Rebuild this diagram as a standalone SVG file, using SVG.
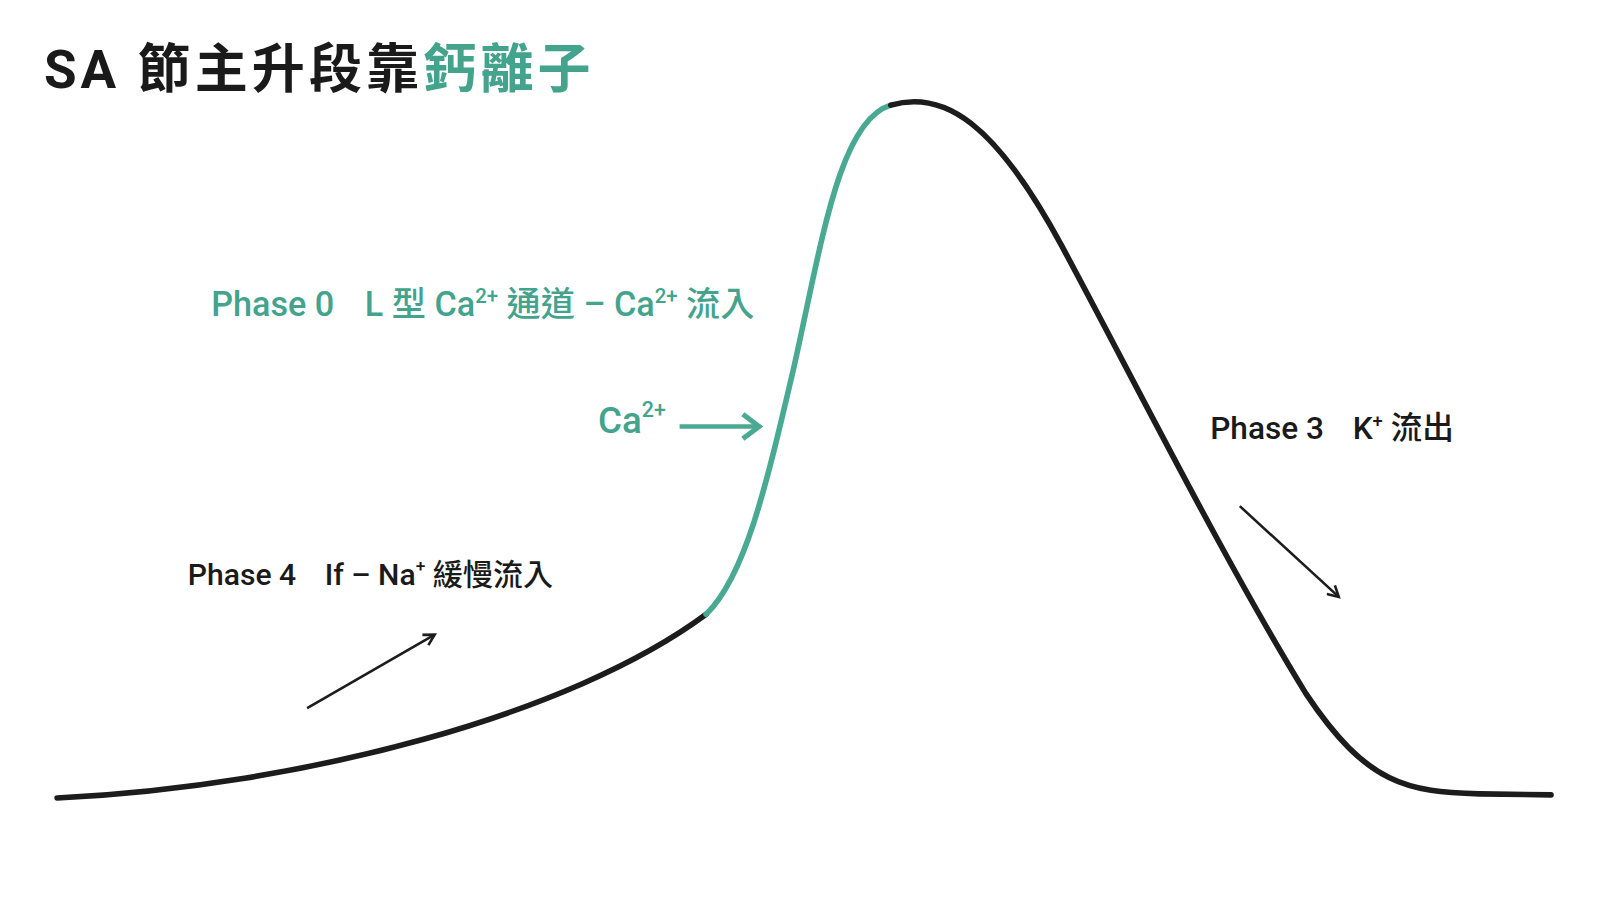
<svg xmlns="http://www.w3.org/2000/svg" width="1600" height="900" viewBox="0 0 1600 900">
<defs>
<style>
text{font-family:"Roboto","Noto Sans","Noto Sans CJK TC",sans-serif}
.title{font-size:52px;font-weight:700;fill:#1a1a1a;letter-spacing:4px}
.teal{fill:#43a38c}
.lbl{font-weight:500;fill:#1a1a1a}
.curve{fill:none;stroke-width:5.5;stroke-linecap:round;stroke-linejoin:round}
.k{stroke:#1c1c1c}
.g{stroke:#4aa993}
.arr{fill:none;stroke:#1c1c1c;stroke-width:2.5}
</style>
<marker id="ah" viewBox="0 0 12 12" refX="10" refY="6" markerWidth="14" markerHeight="14" markerUnits="userSpaceOnUse" orient="auto">
<path d="M1,1 L10,6 L1,11" fill="none" stroke="#1c1c1c" stroke-width="2.2"/>
</marker>
<marker id="ahg" viewBox="0 0 24 30" refX="20" refY="15" markerWidth="24" markerHeight="30" markerUnits="userSpaceOnUse" orient="auto">
<path d="M4,3 L20,15 L4,27" fill="none" stroke="#4aa993" stroke-width="5" stroke-linejoin="miter"/>
</marker>
</defs>
<rect width="1600" height="900" fill="#ffffff"/>
<g transform="scale(1.0204)">
<g id="title">
<text class="title" x="43" y="86">SA 節主升段靠<tspan class="teal">鈣離子</tspan></text>
</g>
<g id="curve">
<path class="curve k" d="M56,782 C300,770 560,700 692,602"/>
<path class="curve g" d="M692,602 C730,565 750,480 778,360 C805,240 822,118 873,103"/>
<path class="curve k" d="M873,103 C925,88 975,120 1040,240 C1110,370 1200,550 1280,680 C1340,770 1380,776 1450,778 L1520,779"/>
</g>
<g id="phase0">
<text x="207" y="310" font-size="33.5" font-weight="500" class="teal">Phase 0<tspan dx="30">L 型 Ca</tspan><tspan font-size="20" dy="-13">2+</tspan><tspan dy="13"> 通道 – Ca</tspan><tspan font-size="20" dy="-13">2+</tspan><tspan dy="13"> 流入</tspan></text>
</g>
<g id="ca-label">
<text x="586" y="424" font-size="36" font-weight="500" class="teal">Ca<tspan font-size="21" dy="-15">2+</tspan></text>
</g>
<g id="phase4">
<text x="184" y="573" font-size="29.5" class="lbl">Phase 4<tspan dx="28">If – Na</tspan><tspan font-size="17" dy="-12">+</tspan><tspan dy="12"> 緩慢流入</tspan></text>
</g>
<g id="phase3">
<text x="1186" y="430" font-size="31" class="lbl">Phase 3<tspan dx="28">K</tspan><tspan font-size="18" dy="-12">+</tspan><tspan dy="12"> 流出</tspan></text>
</g>
<g id="connectors">
<line x1="666" y1="418" x2="744" y2="418" stroke="#4aa993" stroke-width="4.5" marker-end="url(#ahg)"/>
<line class="arr" x1="301" y1="694" x2="426" y2="622" marker-end="url(#ah)"/>
<line class="arr" x1="1215" y1="496" x2="1312" y2="585" marker-end="url(#ah)"/>
</g>
</g>
</svg>
